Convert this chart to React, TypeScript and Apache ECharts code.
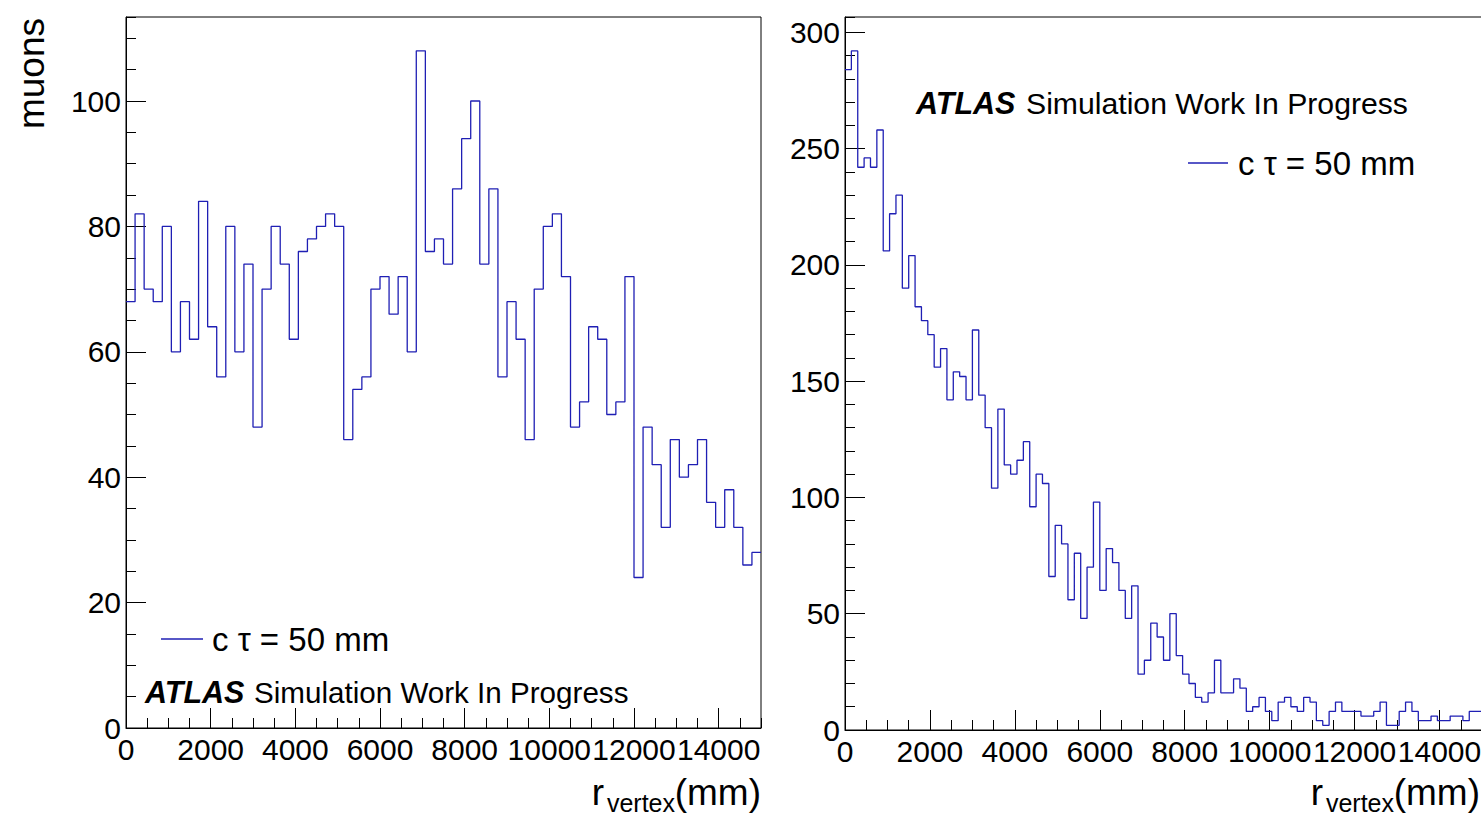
import React, { useEffect, useRef } from "react";
import * as echarts from "echarts";

// ---------- data ----------
const X_MIN = 0;
const X_MAX = 15000;
const X_TICK_MAJOR = 2000;
const X_TICK_MINOR = 500;

// left panel: 70 bins from 0 to 15000 mm
const LEFT_COUNTS = [
  68, 82, 70, 68, 80, 60, 68, 62, 84, 64,
  56, 80, 60, 74, 48, 70, 80, 74, 62, 76,
  78, 80, 82, 80, 46, 54, 56, 70, 72, 66,
  72, 60, 108, 76, 78, 74, 86, 94, 100, 74,
  86, 56, 68, 62, 46, 70, 80, 82, 72, 48,
  52, 64, 62, 50, 52, 72, 24, 48, 42, 32,
  46, 40, 42, 46, 36, 32, 38, 32, 26, 28,
];
const LEFT_Y_MAX = 113.4;
const LEFT_Y_MAJOR = 20;
const LEFT_Y_MINOR = 5;

// right panel: 100 bins from 0 to 15000 mm
const RIGHT_COUNTS = [
  284, 292, 242, 246, 242, 258, 206, 222, 230, 190,
  204, 182, 176, 170, 156, 164, 142, 154, 152, 142,
  172, 144, 130, 104, 138, 114, 110, 116, 124, 96,
  110, 106, 66, 88, 80, 56, 76, 48, 70, 98,
  60, 78, 72, 60, 48, 62, 24, 30, 46, 40,
  30, 50, 32, 24, 20, 14, 12, 16, 30, 16,
  16, 22, 18, 8, 10, 14, 8, 4, 12, 14,
  10, 8, 14, 12, 4, 2, 8, 12, 8, 8,
  8, 6, 6, 8, 12, 2, 2, 8, 12, 8,
  4, 4, 6, 4, 4, 6, 6, 4, 8, 8,
];
const RIGHT_Y_MAX = 306.6;
const RIGHT_Y_MAJOR = 50;
const RIGHT_Y_MINOR = 10;

const Y_TITLE = "muons";
const LEGEND_LABEL = "c \u03c4 = 50 mm";
const ATLAS = "ATLAS";
const ATLAS_SUFFIX = "Simulation Work In Progress";

// ---------- styling ----------
const FONT = '"Liberation Sans", Arial, Helvetica, sans-serif';
const LINE_COLOR = "#1f1fb4";
const BLACK = "#000";

function histPoints(counts: number[]) {
  const w = (X_MAX - X_MIN) / counts.length;
  const pts: number[][] = counts.map((c, i) => [X_MIN + i * w, c]);
  pts.push([X_MIN + counts.length * w, counts[counts.length - 1]]);
  return pts;
}

const plain = (v: number) => String(v);

function xMajor(g: number) {
  return {
    type: "value",
    gridIndex: g,
    position: "bottom",
    min: X_MIN,
    max: X_MAX,
    interval: X_TICK_MAJOR,
    axisLine: { show: true, onZero: false, lineStyle: { color: BLACK, width: 1 } },
    axisTick: { show: true, inside: true, length: 20, lineStyle: { color: BLACK, width: 1 } },
    axisLabel: {
      show: true,
      margin: 6,
      color: BLACK,
      fontSize: 30,
      fontFamily: FONT,
      formatter: plain,
      showMaxLabel: false,
      showMinLabel: true,
      hideOverlap: false,
    },
    splitLine: { show: false },
  };
}
function xMinor(g: number) {
  return {
    type: "value",
    gridIndex: g,
    position: "bottom",
    min: X_MIN,
    max: X_MAX,
    interval: X_TICK_MINOR,
    axisLine: { show: false },
    axisTick: { show: true, inside: true, length: 10, lineStyle: { color: BLACK, width: 1 } },
    axisLabel: { show: false },
    splitLine: { show: false },
  };
}
function yMajor(g: number, max: number, interval: number) {
  return {
    type: "value",
    gridIndex: g,
    position: "left",
    min: 0,
    max,
    interval,
    axisLine: { show: true, onZero: false, lineStyle: { color: BLACK, width: 1 } },
    axisTick: { show: true, inside: true, length: 20, lineStyle: { color: BLACK, width: 1 } },
    axisLabel: {
      show: true,
      margin: 5,
      color: BLACK,
      fontSize: 30,
      fontFamily: FONT,
      formatter: plain,
      showMaxLabel: false,
      showMinLabel: true,
    },
    splitLine: { show: false },
  };
}
function yMinor(g: number, max: number, interval: number) {
  return {
    type: "value",
    gridIndex: g,
    position: "left",
    min: 0,
    max,
    interval,
    axisLine: { show: false },
    axisTick: { show: true, inside: true, length: 10, lineStyle: { color: BLACK, width: 1 } },
    axisLabel: { show: false },
    splitLine: { show: false },
  };
}

function txt(
  text: string,
  x: number,
  y: number,
  fontSize: number,
  align: string,
  extra: any = {}
) {
  return {
    type: "text",
    x,
    y,
    silent: true,
    ...(extra.rotation !== undefined ? { rotation: extra.rotation } : {}),
    style: {
      text,
      fill: BLACK,
      fontSize,
      fontFamily: FONT,
      fontWeight: extra.fontWeight || "normal",
      fontStyle: extra.fontStyle || "normal",
      align,
      textAlign: align,
      verticalAlign: "middle",
      textVerticalAlign: "middle",
    },
  };
}

function lineEl(x1: number, y: number, x2: number) {
  return {
    type: "line",
    silent: true,
    shape: { x1, y1: y, x2, y2: y },
    style: { stroke: LINE_COLOR, lineWidth: 1.3 },
  };
}

function buildOption() {
  return {
    animation: false,
    backgroundColor: "#fff",
    grid: [
      {
        left: 126,
        top: 17,
        width: 635,
        height: 711,
        show: true,
        borderColor: BLACK,
        borderWidth: 1,
        backgroundColor: "transparent",
        containLabel: false,
        outerBoundsMode: "none",
      },
      {
        left: 845,
        top: 17,
        width: 637,
        height: 713,
        show: true,
        borderColor: BLACK,
        borderWidth: 1,
        backgroundColor: "transparent",
        containLabel: false,
        outerBoundsMode: "none",
      },
    ],
    xAxis: [xMajor(0), xMinor(0), xMajor(1), xMinor(1)],
    yAxis: [
      yMajor(0, LEFT_Y_MAX, LEFT_Y_MAJOR),
      yMinor(0, LEFT_Y_MAX, LEFT_Y_MINOR),
      yMajor(1, RIGHT_Y_MAX, RIGHT_Y_MAJOR),
      yMinor(1, RIGHT_Y_MAX, RIGHT_Y_MINOR),
    ],
    series: [
      {
        name: LEGEND_LABEL,
        type: "line",
        xAxisIndex: 0,
        yAxisIndex: 0,
        data: histPoints(LEFT_COUNTS),
        step: "end",
        symbol: "none",
        showSymbol: false,
        silent: true,
        clip: true,
        lineStyle: { color: LINE_COLOR, width: 1.3 },
      },
      {
        name: LEGEND_LABEL,
        type: "line",
        xAxisIndex: 2,
        yAxisIndex: 2,
        data: histPoints(RIGHT_COUNTS),
        step: "end",
        symbol: "none",
        showSymbol: false,
        silent: true,
        clip: true,
        lineStyle: { color: LINE_COLOR, width: 1.3 },
      },
    ],
    graphic: [
      // y-axis title
      txt(Y_TITLE, 31, 18, 37, "right", { rotation: Math.PI / 2 }),
      // left x-axis title
      txt("(mm)", 761, 792, 37, "right"),
      txt("vertex", 675, 803, 25, "right"),
      txt("r", 604, 792, 37, "right"),
      // right x-axis title
      txt("(mm)", 1480, 792, 37, "right"),
      txt("vertex", 1394, 803, 25, "right"),
      txt("r", 1323, 792, 37, "right"),
      // left legend + label
      lineEl(161, 639, 203),
      txt(LEGEND_LABEL, 212, 639, 33, "left"),
      txt(ATLAS, 145, 692, 30.5, "left", { fontWeight: "bold", fontStyle: "italic" }),
      txt(ATLAS_SUFFIX, 254, 692, 29.6, "left"),
      // right legend + label
      txt(ATLAS, 916, 103, 30.5, "left", { fontWeight: "bold", fontStyle: "italic" }),
      txt(ATLAS_SUFFIX, 1026, 103, 30.2, "left"),
      lineEl(1188, 163, 1228),
      txt(LEGEND_LABEL, 1238, 163, 33, "left"),
    ],
  };
}

export default function App() {
  const ref = useRef<HTMLDivElement | null>(null);
  useEffect(() => {
    if (!ref.current) return;
    const chart = echarts.init(ref.current, undefined, { renderer: "svg" });
    chart.setOption(buildOption() as any);
    return () => {
      chart.dispose();
    };
  }, []);
  return (
    <div
      ref={ref}
      style={{
        position: "absolute",
        left: 0,
        top: 0,
        width: 1481,
        height: 819,
        background: "#fff",
      }}
    />
  );
}
